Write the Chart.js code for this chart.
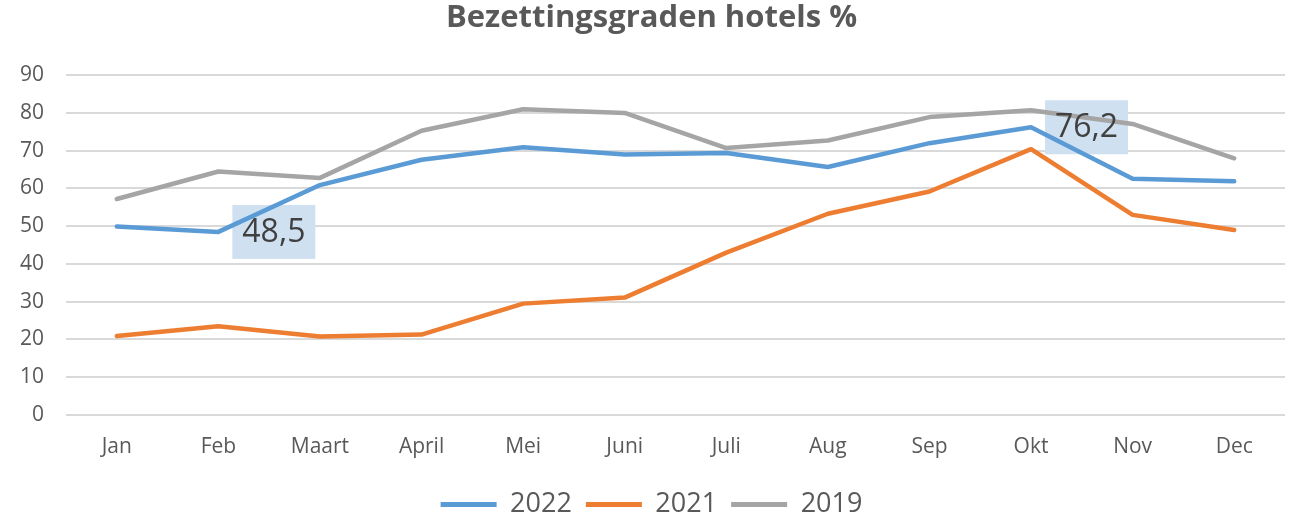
<!DOCTYPE html>
<html>
<head>
<meta charset="utf-8">
<script src="https://cdn.jsdelivr.net/npm/chart.js@4/dist/chart.umd.min.js"></script>
<style>
  html, body { margin: 0; padding: 0; background: #fff; }
  #wrap { width: 1299px; height: 522px; }
</style>
</head>
<body>
<div id="wrap"><canvas id="chart" width="1299" height="522"></canvas></div>
<script>
const months = ['Jan', 'Feb', 'Maart', 'April', 'Mei', 'Juni', 'Juli', 'Aug', 'Sep', 'Okt', 'Nov', 'Dec'];
const values2022 = [49.9, 48.5, 60.9, 67.6, 70.9, 69.0, 69.4, 65.7, 72.0, 76.2, 62.6, 61.9];
const values2021 = [20.9, 23.5, 20.8, 21.3, 29.5, 31.1, 43.0, 53.3, 59.2, 70.4, 53.0, 49.0];
const values2019 = [57.2, 64.5, 62.8, 75.3, 81.0, 80.0, 70.7, 72.7, 78.9, 80.7, 77.1, 68.0];
const yTicks = [0, 10, 20, 30, 40, 50, 60, 70, 80, 90];

// points that carry a value label in the original (series index, month index)
const labelled = [
    { series: 0, index: 1 },
    { series: 0, index: 9 }
];

const FONT = "'Open Sans', 'DejaVu Sans', sans-serif";
const TEXT = '#595959';

const valueLabels = {
    id: 'valueLabels',
    beforeDatasetsDraw(chart) {
        const ctx = chart.ctx;
        ctx.save();
        ctx.fillStyle = '#cfe0f1';
        labelled.forEach(l => {
            const pt = chart.getDatasetMeta(l.series).data[l.index];
            ctx.fillRect(pt.x + 14, pt.y - 27, 83, 54);
        });
        ctx.restore();
    },
    afterDatasetsDraw(chart) {
        const ctx = chart.ctx;
        ctx.save();
        ctx.font = '32px ' + FONT;
        ctx.fillStyle = '#404040';
        ctx.textAlign = 'center';
        ctx.textBaseline = 'middle';
        labelled.forEach(l => {
            const pt = chart.getDatasetMeta(l.series).data[l.index];
            const v = chart.data.datasets[l.series].data[l.index];
            ctx.fillText(v.toFixed(1).replace('.', ','), pt.x + 14 + 41.5, pt.y + 1);
        });
        ctx.restore();
    }
};

function line(label, data, color) {
    return {
        label: label,
        data: data,
        borderColor: color,
        backgroundColor: color,
        borderWidth: 4.5,
        borderCapStyle: 'round',
        borderJoinStyle: 'round',
        pointRadius: 0,
        pointHoverRadius: 0,
        tension: 0
    };
}

new Chart(document.getElementById('chart'), {
    type: 'line',
    data: {
        labels: months,
        datasets: [
            line('2022', values2022, '#5b9bd5'),
            line('2021', values2021, '#ed7d31'),
            line('2019', values2019, '#a5a5a5')
        ]
    },
    options: {
        responsive: false,
        animation: false,
        layout: { padding: { left: 18, right: 14, top: 0, bottom: -6 } },
        plugins: {
            tooltip: { enabled: false },
            title: {
                display: true,
                text: 'Bezettingsgraden hotels %',
                color: TEXT,
                font: { family: FONT, size: 31, weight: 'bold', lineHeight: 1.2 },
                padding: { top: 0, bottom: 38 }
            },
            legend: {
                position: 'bottom',
                labels: {
                    color: TEXT,
                    font: { family: FONT, size: 27 },
                    boxWidth: 56,
                    boxHeight: 5,
                    padding: 14,
                    generateLabels(chart) {
                        return chart.data.datasets.map((ds, i) => ({
                            text: ds.label,
                            fillStyle: ds.borderColor,
                            strokeStyle: ds.borderColor,
                            lineWidth: 0,
                            fontColor: TEXT,
                            hidden: false,
                            datasetIndex: i
                        }));
                    }
                }
            }
        },
        scales: {
            x: {
                offset: true,
                grid: { display: false, drawTicks: false },
                border: { display: false },
                ticks: { color: TEXT, font: { family: FONT, size: 21 }, padding: 19, maxRotation: 0 },
                afterFit(scale) { scale.height = 62; }
            },
            y: {
                min: 0,
                max: 90,
                grid: { color: '#d9d9d9', lineWidth: 2, drawTicks: false },
                border: { display: false },
                afterBuildTicks(scale) { scale.ticks = yTicks.map(v => ({ value: v })); },
                ticks: { color: TEXT, font: { family: FONT, size: 21 }, padding: 22 },
                afterFit(scale) { scale.width = 48; }
            }
        }
    },
    plugins: [valueLabels]
});
</script>
</body>
</html>
